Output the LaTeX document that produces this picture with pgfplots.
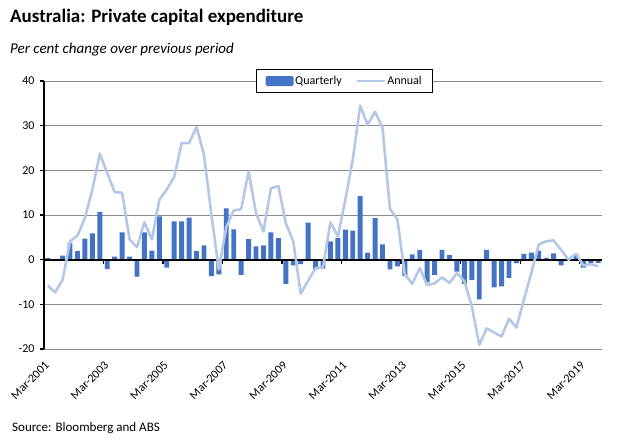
\documentclass[border=0pt]{standalone}
\usepackage{pgfplots}
\pgfplotsset{compat=1.18}
\usepackage{fontspec}
\setmainfont{Carlito}

\definecolor{qblue}{HTML}{4472C4}
\definecolor{ablue}{HTML}{B4C7E7}
\definecolor{gridgray}{HTML}{8C8C8C}

% quarterly and annual per cent change, Mar-2001 (q=0) to Sep-2019 (q=74)
\pgfplotstableread{
q   quarterly annual
0   0.4   -5.8
1   -0.3  -7.3
2   0.9   -4.5
3   3.7   4.1
4   1.9   5.4
5   4.7   9.3
6   5.9   15.7
7   10.7  23.7
8   -2.1  19.4
9   0.7   15.1
10  6.1   15.0
11  0.7   4.5
12  -3.8  2.8
13  6.1   8.4
14  2.0   4.5
15  9.7   13.4
16  -1.8  15.7
17  8.6   18.5
18  8.6   26.1
19  9.4   26.1
20  1.9   29.7
21  3.2   23.5
22  -3.7  10.1
23  -3.3  -2.2
24  11.5  7.3
25  6.8   11.0
26  -3.4  11.3
27  4.6   19.8
28  3.0   10.4
29  3.2   6.3
30  6.1   16.0
31  4.8   16.5
32  -5.4  8.2
33  -1.3  4.1
34  -1.0  -7.6
35  8.3   -4.7
36  -2.2  -1.9
37  -2.0  -1.7
38  4.1   8.4
39  4.9   5.2
40  6.7   13.4
41  6.5   22.4
42  14.2  34.5
43  1.6   30.2
44  9.3   33.1
45  3.4   29.5
46  -2.2  11.4
47  -1.5  9.0
48  -3.7  -3.3
49  1.2   -5.4
50  2.2   -1.9
51  -5.1  -5.7
52  -3.4  -5.3
53  2.2   -4.0
54  1.0   -5.2
55  -2.7  -3.0
56  -5.4  -4.8
57  -4.6  -10.4
58  -8.9  -19.1
59  2.2   -15.4
60  -6.2  -16.3
61  -6.0  -17.2
62  -4.1  -13.2
63  -0.8  -15.2
64  1.3   -9.0
65  1.6   -3.0
66  2.0   3.4
67  0.4   4.1
68  1.4   4.3
69  -1.3  2.2
70  0.2   0.0
71  1.3   1.3
72  -1.8  -1.3
73  -0.7  -1.0
74  -0.7  -1.5
}\capex

\begin{document}
\begin{tikzpicture}
\useasboundingbox (0pt,0pt) rectangle (631pt,447pt);

\node[anchor=base west,inner sep=0pt,font=\fontsize{19}{21}\selectfont\bfseries] at (10pt,424pt) {Australia: Private capital expenditure};
\node[anchor=base west,inner sep=0pt,font=\fontsize{15}{17}\selectfont\itshape] at (10pt,393pt) {Per cent change over previous period};
\node[anchor=base west,inner sep=0pt,font=\fontsize{13}{15}\selectfont] at (12pt,16pt) {Source: Bloomberg and ABS};

\begin{axis}[
    at={(44pt,98pt)}, anchor=south west,
    scale only axis,
    width=558pt, height=268pt,
    xmin=-0.5, xmax=74.5,
    ymin=-20, ymax=40,
    ytick={-20,-10,0,10,20,30,40},
    xtick={0,8,16,24,32,40,48,56,64,72},
    xticklabels={Mar-2001,Mar-2003,Mar-2005,Mar-2007,Mar-2009,Mar-2011,Mar-2013,Mar-2015,Mar-2017,Mar-2019},
    axis y line*=left,
    axis x line*=bottom,
    x axis line style={draw=none},
    y axis line style={black, line width=1.8pt},
    ytick style={black, line width=1.2pt},
    xtick style={draw=none},
    tick align=outside,
    major tick length=4pt,
    ymajorgrids,
    grid style={gridgray, line width=0.9pt},
    tick label style={font=\fontsize{12}{14}\selectfont, black},
    /pgf/number format/assume math mode=true,
    xticklabel style={xshift=-3.5pt, yshift=-6pt, rotate=45, anchor=north east, inner sep=1pt},
    yticklabel style={xshift=-2pt},
    legend style={at={(0.5385,1)}, anchor=center, draw=black, line width=0.8pt,
        font=\fontsize{12}{14}\selectfont, legend columns=2,
        nodes={inner xsep=1.5pt, inner ysep=4pt},
        /tikz/every even column/.append style={column sep=12pt},
        inner xsep=9pt, inner ysep=2.5pt, fill=white},
    clip=false,
]
\addplot[ybar, bar width=0.66, fill=qblue, draw=none,
    legend image code/.code={\fill[qblue, rounded corners=1.5pt] (0pt,-5pt) rectangle (28pt,5pt);}]
    table[x=q, y=quarterly] {\capex};
\addlegendentry{Quarterly}
\draw[black, line width=2pt] (axis cs:-0.5,0) -- (axis cs:74.5,0);
\pgfplotsinvokeforeach{7.5,15.5,23.5,31.5,39.5,47.5,55.5,63.5,71.5}{
    \draw[black, line width=1.3pt] (axis cs:#1,0) -- ([yshift=-4pt]axis cs:#1,0);
}
\addplot[ablue, line width=2.6pt, line join=round,
    legend image code/.code={\draw[ablue, line width=2.6pt] (0pt,0pt) -- (28pt,0pt);}]
    table[x=q, y=annual] {\capex};
\addlegendentry{Annual}
\end{axis}
\end{tikzpicture}
\end{document}
